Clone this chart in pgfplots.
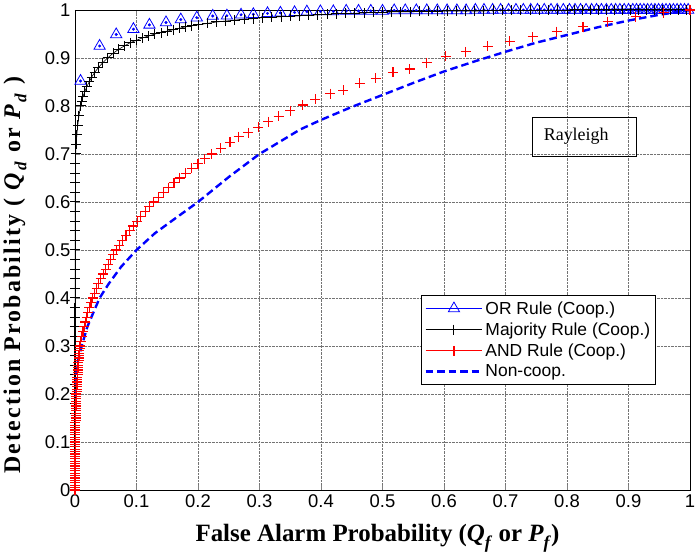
\documentclass[border=0pt]{standalone}
\usepackage{fontspec}
\setmainfont{Liberation Sans}
\newfontfamily\timesf{Liberation Serif}
\newfontfamily\timesy[LetterSpace=9]{Liberation Serif}
\newcommand\lsub[2]{\raisebox{-0.27em}{\fontsize{#1}{#1}\selectfont\textit{#2}}}
\usepackage{pgfplots}
\pgfplotsset{compat=1.18}
\begin{document}
\begin{tikzpicture}
\begin{axis}[
  scale only axis, width=615bp, height=480bp,
  xmin=0, xmax=1, ymin=0, ymax=1,
  xtick={0,0.1,0.2,0.3,0.4,0.5,0.6,0.7,0.8,0.9,1},
  ytick={0,0.1,0.2,0.3,0.4,0.5,0.6,0.7,0.8,0.9,1},
  tick align=inside, tick pos=both,
  major tick length=5bp,
  grid=major, major grid style={densely dotted, black!55, line width=0.6bp},
  axis line style={black, line width=0.9bp},
  /pgf/number format/assume math mode=true,
  ticklabel style={font=\fontsize{18.5}{18.5}\selectfont},
  xticklabel style={yshift=-1bp},
  yticklabel style={xshift=-1bp},
  xlabel={False Alarm Probability (\textit{Q}\lsub{18}{f} or \textit{P}\lsub{18}{f})},
  ylabel={Detection Probability ( \textit{Q}\lsub{17}{d} or \textit{P}\lsub{17}{d} )},
  xlabel style={font=\timesf\bfseries\fontsize{25}{27}\selectfont, at={(axis description cs:0.7935,-0.1083)}, anchor=base east},
  ylabel style={font=\timesy\bfseries\fontsize{24}{26}\selectfont, at={(axis description cs:-0.0894,0.027)}, anchor=base west},
  legend style={at={(0.5626,0.406)}, anchor=north west,
    font=\fontsize{17.5}{21}\selectfont, cells={anchor=west}, draw=black, line width=0.8bp,
    inner xsep=3bp, inner ysep=4bp, row sep=3bp},
  legend image code/.code={\draw[mark repeat=2,mark phase=2] plot coordinates {(0cm,0cm) (1.0cm,0cm) (2.0cm,0cm)};},
]
\addlegendimage{blue, mark=triangle, mark size=6.5bp, line width=0.7bp, mark options={solid, line width=0.8bp}}
\addlegendentry{OR Rule (Coop.)}
\addlegendimage{black, mark=+, mark size=5bp, line width=0.7bp, mark options={line width=1bp}}
\addlegendentry{Majority Rule (Coop.)}
\addlegendimage{color=red, mark=+, mark size=5bp, line width=0.8bp, mark options={red, line width=1.1bp}}
\addlegendentry{AND Rule (Coop.)}
\addlegendimage{blue, line width=2.4bp, dash pattern=on 7.5bp off 4bp}
\addlegendentry{Non-coop.}

% OR rule
\addplot[blue, only marks, mark=triangle, mark size=6.5bp, mark options={line width=0.8bp}, forget plot] coordinates {
(0.009,0.852) (0.040,0.925) (0.067,0.949) (0.095,0.960) (0.121,0.969) (0.148,0.974) (0.172,0.980) (0.198,0.984) (0.224,0.9875) (0.247,0.988) (0.270,0.990) (0.290,0.991) (0.313,0.993) (0.334,0.994) (0.357,0.995) (0.377,0.9965)
(0.399,0.997) (0.420,0.997) (0.441,0.998) (0.461,0.998) (0.481,0.998) (0.500,0.998) (0.519,0.999) (0.537,0.999) (0.555,0.999) (0.572,0.999) (0.589,0.999) (0.605,0.999) (0.621,0.999) (0.636,0.999) (0.651,1.0) (0.665,1.0) (0.679,1.0) (0.692,1.0) (0.705,1.0) (0.717,1.0) (0.729,1.0) (0.741,1.0) (0.752,1.0) (0.763,1.0) (0.774,1.0) (0.784,1.0) (0.794,1.0) (0.804,1.0) (0.813,1.0) (0.822,1.0) (0.831,1.0) (0.840,1.0) (0.848,1.0) (0.856,1.0) (0.864,1.0) (0.872,1.0) (0.879,1.0) (0.886,1.0) (0.893,1.0) (0.900,1.0) (0.907,1.0) (0.913,1.0) (0.919,1.0) (0.925,1.0) (0.931,1.0) (0.937,1.0) (0.943,1.0) (0.949,1.0) (0.955,1.0) (0.961,1.0) (0.967,1.0) (0.973,1.0) (0.979,1.0) (0.985,1.0) (0.991,1.0) (0.997,1.0)
};
\addplot[blue, only marks, mark=*, mark size=1.3bp, forget plot] coordinates {
(0.009,0.852) (0.040,0.925) (0.067,0.949) (0.095,0.960) (0.121,0.969) (0.148,0.974) (0.172,0.980) (0.198,0.984) (0.224,0.9875) (0.247,0.988) (0.270,0.990) (0.290,0.991) (0.313,0.993) (0.334,0.994) (0.357,0.995) (0.377,0.9965)
(0.399,0.997) (0.420,0.997) (0.441,0.998) (0.461,0.998) (0.481,0.998) (0.500,0.998) (0.519,0.999) (0.537,0.999) (0.555,0.999) (0.572,0.999) (0.589,0.999) (0.605,0.999) (0.621,0.999) (0.636,0.999) (0.651,1.0) (0.665,1.0) (0.679,1.0) (0.692,1.0) (0.705,1.0) (0.717,1.0) (0.729,1.0) (0.741,1.0) (0.752,1.0) (0.763,1.0) (0.774,1.0) (0.784,1.0) (0.794,1.0) (0.804,1.0) (0.813,1.0) (0.822,1.0) (0.831,1.0) (0.840,1.0) (0.848,1.0) (0.856,1.0) (0.864,1.0) (0.872,1.0) (0.879,1.0) (0.886,1.0) (0.893,1.0) (0.900,1.0) (0.907,1.0) (0.913,1.0) (0.919,1.0) (0.925,1.0) (0.931,1.0) (0.937,1.0) (0.943,1.0) (0.949,1.0) (0.955,1.0) (0.961,1.0) (0.967,1.0) (0.973,1.0) (0.979,1.0) (0.985,1.0) (0.991,1.0) (0.997,1.0)
};

% Majority rule
\addplot[black, line width=0.6bp, mark=+, mark size=5bp, mark options={line width=1bp}, forget plot] coordinates {
(0,0) (0,0.02) (0,0.04) (0,0.06) (0,0.08) (0,0.10) (0,0.12) (0,0.14) (0,0.16) (0,0.18) (0,0.20) (0,0.22) (0,0.24) (0,0.26) (0,0.28) (0,0.30) (0,0.32) (0,0.34) (0,0.36) (0,0.38) (0.0001,0.40) (0.0001,0.42) (0.0001,0.44) (0.0001,0.46) (0.0002,0.48) (0.0002,0.50) (0.0002,0.52) (0.0003,0.54) (0.0003,0.56) (0.0004,0.58) (0.0004,0.60) (0.0005,0.62) (0.0006,0.64) (0.0007,0.66) (0.0008,0.68)
(0.001,0.70) (0.002,0.72) (0.003,0.74) (0.0045,0.76) (0.0065,0.78) (0.009,0.80) (0.011,0.81) (0.013,0.82) (0.016,0.83) (0.019,0.84) (0.023,0.85) (0.027,0.86) (0.032,0.87) (0.038,0.88) (0.045,0.89) (0.053,0.90)
(0.062,0.910) (0.071,0.918) (0.080,0.925) (0.090,0.932) (0.100,0.937) (0.110,0.942) (0.120,0.946) (0.130,0.950) (0.140,0.953) (0.150,0.956) (0.160,0.959) (0.170,0.962) (0.180,0.965) (0.190,0.967) (0.200,0.969) (0.215,0.972) (0.230,0.975) (0.245,0.977) (0.260,0.979) (0.275,0.981) (0.290,0.982) (0.305,0.984) (0.320,0.985) (0.335,0.986) (0.350,0.987)
(0.365,0.988) (0.380,0.989) (0.395,0.990) (0.410,0.991) (0.425,0.992) (0.440,0.993) (0.455,0.993) (0.470,0.994) (0.485,0.995) (0.500,0.995) (0.515,0.996) (0.530,0.996) (0.545,0.996) (0.560,0.997) (0.575,0.997) (0.590,0.997) (0.605,0.998) (0.620,0.998) (0.635,0.998) (0.650,0.998) (0.665,0.998) (0.680,0.999) (0.695,0.999) (0.710,0.999) (0.725,0.999) (0.740,0.999) (0.755,0.999) (0.770,0.999) (0.785,0.999) (0.800,0.999) (0.813,1.0) (0.826,1.0) (0.839,1.0) (0.852,1.0) (0.865,1.0) (0.878,1.0) (0.891,1.0) (0.904,1.0) (0.917,1.0) (0.930,1.0) (0.943,1.0) (0.956,1.0) (0.969,1.0) (0.982,1.0) (0.995,1.0) (1.0,1.0)
};

% AND rule
\addplot[red, only marks, mark=+, mark size=5bp, mark options={line width=1.1bp}, forget plot] coordinates {
(0,0) (0,0.005) (0,0.01) (0.000001,0.015) (0.000002,0.02) (0.000005,0.025) (0.000008,0.03) (0.000013,0.035) (0.00002,0.04) (0.000027,0.045) (0.000037,0.05) (0.00005,0.055) (0.000064,0.06) (0.00008,0.065) (0.0001,0.07) (0.000125,0.075) (0.00015,0.08) (0.00018,0.085) (0.00022,0.09) (0.00025,0.095) (0.0003,0.10) (0.00034,0.105) (0.0004,0.11) (0.00045,0.115) (0.0005,0.12) (0.00058,0.125) (0.00065,0.13) (0.00073,0.135) (0.0008,0.14) (0.0009,0.145) (0.001,0.15) (0.0011,0.155) (0.0012,0.16) (0.0013,0.165) (0.0015,0.17) (0.0016,0.175) (0.0017,0.18) (0.0019,0.185) (0.002,0.19) (0.0022,0.195) (0.0024,0.20) (0.0025,0.205) (0.0027,0.21) (0.003,0.215) (0.0032,0.22) (0.0034,0.225) (0.0036,0.23) (0.0038,0.235) (0.0041,0.24) (0.0044,0.245) (0.0046,0.25) (0.0049,0.255) (0.0052,0.26) (0.0055,0.265) (0.0058,0.27) (0.0062,0.275) (0.0065,0.28) (0.0069,0.285) (0.0072,0.29) (0.0076,0.295)
(0.008,0.30) (0.0095,0.31) (0.011,0.32) (0.013,0.33) (0.015,0.34) (0.017,0.35) (0.019,0.36) (0.021,0.37) (0.0235,0.38) (0.026,0.39) (0.029,0.40) (0.032,0.41) (0.035,0.42) (0.038,0.43) (0.042,0.44) (0.046,0.45) (0.050,0.46) (0.054,0.47) (0.058,0.48) (0.062,0.49) (0.067,0.50) (0.072,0.51) (0.077,0.52) (0.083,0.53) (0.089,0.54) (0.095,0.55) (0.101,0.56) (0.107,0.57) (0.114,0.58) (0.121,0.59) (0.128,0.60) (0.136,0.61) (0.144,0.62) (0.152,0.63) (0.161,0.64) (0.170,0.65) (0.180,0.66) (0.190,0.67) (0.200,0.68) (0.211,0.69) (0.222,0.70)
(0.237,0.712) (0.252,0.724) (0.266,0.736) (0.282,0.744) (0.298,0.756) (0.314,0.767) (0.331,0.779) (0.350,0.790) (0.370,0.802) (0.391,0.814) (0.415,0.826) (0.436,0.833) (0.463,0.847) (0.489,0.858) (0.517,0.870) (0.544,0.877) (0.572,0.890) (0.603,0.904) (0.635,0.913) (0.671,0.924) (0.707,0.935) (0.744,0.944) (0.783,0.955) (0.826,0.965) (0.866,0.976) (0.912,0.986) (0.957,0.994) (1.0,1.0)
};

% Non-cooperative
\addplot[blue, line width=2.4bp, dash pattern=on 7.5bp off 4bp, forget plot] coordinates {
(0.0003,0.17) (0.001,0.21) (0.002,0.24) (0.005,0.27) (0.011,0.30) (0.020,0.34) (0.030,0.37) (0.040,0.40) (0.055,0.43) (0.075,0.465) (0.100,0.500) (0.130,0.535) (0.160,0.563) (0.200,0.600) (0.250,0.652) (0.300,0.700) (0.366,0.751) (0.400,0.771) (0.450,0.798) (0.500,0.823) (0.550,0.848) (0.600,0.872) (0.650,0.893) (0.700,0.913) (0.750,0.932) (0.800,0.948) (0.850,0.964) (0.900,0.978) (0.950,0.990) (1.0,1.0)
};

\draw[black, line width=0.7bp] (axis cs:0.743,0.696) rectangle (axis cs:0.912,0.777);
\node[font=\timesf\fontsize{18}{18}\selectfont] at (axis cs:0.815,0.737) {Rayleigh};
\end{axis}
\pgfresetboundingbox
\path (-75bp,-66bp) rectangle (622bp,490bp);
\end{tikzpicture}
\end{document}
